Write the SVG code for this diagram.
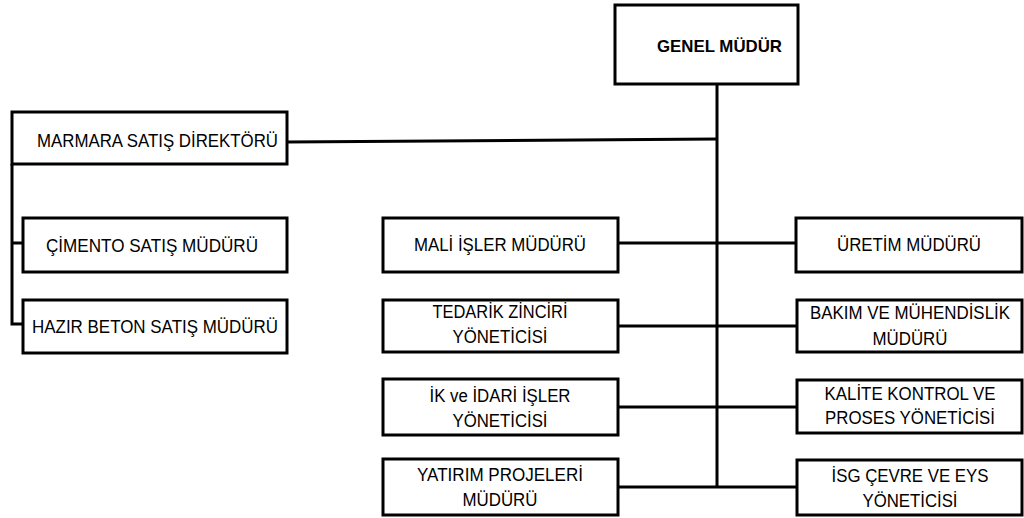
<svg xmlns="http://www.w3.org/2000/svg" width="1024" height="518" viewBox="0 0 1024 518">
<style>
.box{fill:#fff;stroke:#000;stroke-width:3}
.ln{fill:none;stroke:#000;stroke-width:3}
text{font-family:"Liberation Sans",Arial,sans-serif;font-size:18px;fill:#000}
.c{text-anchor:middle}
.b{font-weight:bold;font-size:17px}
</style>
<rect width="1024" height="518" fill="#fff"/>
<g id="connectors">
<path class="ln" d="M717,84 V488"/>
<path class="ln" d="M287,142 L717,139"/>
<path class="ln" d="M12,164 V324 H23 M12,243 H23"/>
<path class="ln" d="M618,243 H796 M618,326 H797 M618,407 H797 M618,487 H797"/>
</g>
<g id="genel"><rect class="box" x="615" y="5" width="183" height="79"/><text class="b" x="657" y="52" textLength="125" lengthAdjust="spacingAndGlyphs">GENEL MÜDÜR</text></g>
<g id="marmara"><rect class="box" x="12" y="112" width="275" height="52"/><text x="37" y="147" textLength="241" lengthAdjust="spacingAndGlyphs">MARMARA SATIŞ DİREKTÖRÜ</text></g>
<g id="cimento"><rect class="box" x="23" y="218" width="264" height="54"/><text class="c" x="152" y="252" textLength="212" lengthAdjust="spacingAndGlyphs">ÇİMENTO SATIŞ MÜDÜRÜ</text></g>
<g id="hazir"><rect class="box" x="23" y="300" width="264" height="53"/><text x="32" y="333" textLength="246" lengthAdjust="spacingAndGlyphs">HAZIR BETON SATIŞ MÜDÜRÜ</text></g>
<g id="mali"><rect class="box" x="383" y="218" width="235" height="54"/><text class="c" x="500" y="251" textLength="172" lengthAdjust="spacingAndGlyphs">MALİ İŞLER MÜDÜRÜ</text></g>
<g id="tedarik"><rect class="box" x="383" y="300" width="235" height="52"/><text class="c" x="500" y="318" textLength="135" lengthAdjust="spacingAndGlyphs">TEDARİK ZİNCİRİ</text><text class="c" x="500" y="343" textLength="95" lengthAdjust="spacingAndGlyphs">YÖNETİCİSİ</text></g>
<g id="ik"><rect class="box" x="383" y="379" width="235" height="56"/><text class="c" x="500" y="402" textLength="141" lengthAdjust="spacingAndGlyphs">İK ve İDARİ İŞLER</text><text class="c" x="500" y="427" textLength="95" lengthAdjust="spacingAndGlyphs">YÖNETİCİSİ</text></g>
<g id="yatirim"><rect class="box" x="383" y="459" width="235" height="56"/><text class="c" x="500" y="481" textLength="166" lengthAdjust="spacingAndGlyphs">YATIRIM PROJELERİ</text><text class="c" x="500" y="506" textLength="75" lengthAdjust="spacingAndGlyphs">MÜDÜRÜ</text></g>
<g id="uretim"><rect class="box" x="796" y="218" width="226" height="54"/><text class="c" x="909" y="251" textLength="144" lengthAdjust="spacingAndGlyphs">ÜRETİM MÜDÜRÜ</text></g>
<g id="bakim"><rect class="box" x="797" y="300" width="225" height="52"/><text class="c" x="910" y="319" textLength="200" lengthAdjust="spacingAndGlyphs">BAKIM VE MÜHENDİSLİK</text><text class="c" x="910" y="345" textLength="75" lengthAdjust="spacingAndGlyphs">MÜDÜRÜ</text></g>
<g id="kalite"><rect class="box" x="797" y="380" width="225" height="53"/><text class="c" x="910" y="400" textLength="171" lengthAdjust="spacingAndGlyphs">KALİTE KONTROL VE</text><text class="c" x="910" y="424" textLength="170" lengthAdjust="spacingAndGlyphs">PROSES YÖNETİCİSİ</text></g>
<g id="isg"><rect class="box" x="797" y="460" width="225" height="55"/><text class="c" x="910" y="482" textLength="157" lengthAdjust="spacingAndGlyphs">İSG ÇEVRE VE EYS</text><text class="c" x="910" y="507" textLength="95" lengthAdjust="spacingAndGlyphs">YÖNETİCİSİ</text></g>
</svg>
